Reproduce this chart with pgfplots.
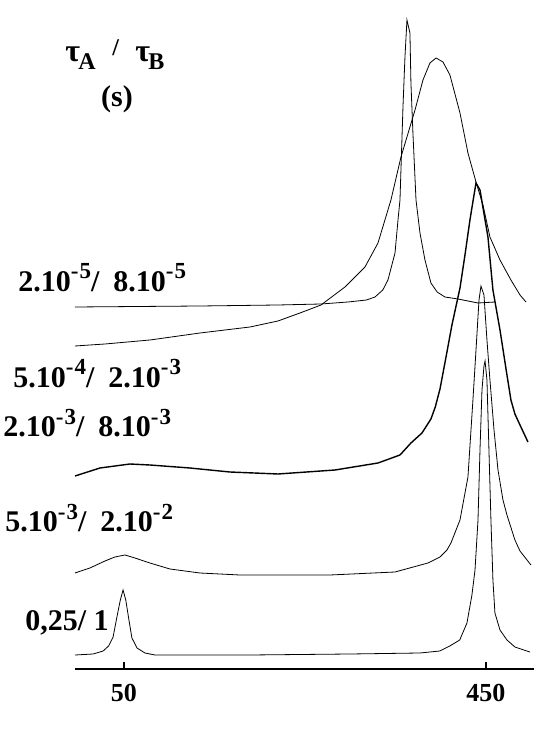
\documentclass[border=0pt]{standalone}
\usepackage{pgfplots}
\pgfplotsset{compat=1.18}
\usepackage{fontspec}
\setmainfont{Liberation Serif}
\newcommand{\sups}[1]{\raisebox{6.5pt}{\fontsize{11.5}{11.5}\selectfont #1}}
\newcommand{\lab}{\bfseries\fontsize{15}{15}\selectfont}
\begin{document}
\begin{tikzpicture}
\begin{axis}[
  at={(0,0)}, anchor=south west,
  x=0.4525pt, y=0.5pt,
  xmin=-4.1, xmax=503, ymin=0, ymax=655,
  axis x line=bottom, axis y line=none,
  axis line style={-, line width=1pt},
  xtick={50,450}, xticklabels={50,450},
  xtick align=inside, major tick length=3.5pt,
  tick style={line width=0.8pt, black},
  xticklabel style={font=\bfseries\fontsize{13}{13}\selectfont, yshift=-4pt},
  ytick=\empty,
  clip=false,
  cycle list={{black, mark=none, line width=0.7pt}},
]
% 0,25 / 1
\addplot coordinates {(-4.1,14) (16,15) (27,18) (33,23) (38,32) (42,51) (46,69) (49,79) (52,69) (55.5,49) (58.8,31) (64.4,21) (73.2,16) (84.3,14) (189,14) (300,15) (377,16) (399,18) (410,23) (421,29) (429,46) (434.5,74) (437.9,99) (441.2,149) (443.4,219) (445.6,279) (447.8,303) (449,308) (451.1,289) (453.3,219) (455.5,149) (457.7,89) (459.9,56) (465.5,39) (473.2,29) (482,22) (498.6,17)};
% 5.10-3 / 2.10-2
\addplot coordinates {(-4.1,96) (12.4,101) (29,108) (40,112) (51.1,114) (62.2,111) (78.7,106) (100.8,100) (134,96) (178,94) (277.6,94) (349.5,97) (385.9,106) (399.2,112) (406.9,119) (411.3,126) (421.3,149) (430.1,192) (435.6,269) (439,319) (442.3,369) (444.5,383) (447.8,374) (451.1,329) (454.4,289) (458.9,239) (463.3,199) (468.8,169) (473.2,154) (482,129) (487.6,118) (499.7,104)};
% 2.10-3 / 8.10-3
\addplot coordinates {(-4.1,193) (23.5,201) (56.6,205) (78.7,204) (122.9,201) (167.1,197) (220.2,195) (283.2,199) (330.7,206) (355,214) (367.1,226) (379.3,236) (389.2,250) (394,262) (399.2,280) (406.9,317) (412.4,344) (421.3,381) (426.8,414) (432.3,449) (436.8,474) (439,486) (443.4,479) (452.2,432) (457.7,379) (465.5,339) (473.2,294) (477.6,269) (482,255) (487.6,244) (496.4,227)};
% 5.10-4 / 2.10-3
\addplot coordinates {(-4.1,323) (29,325) (78.7,329) (134,336) (189.2,342) (220.2,348) (244.5,356) (267.7,364) (294.2,382) (316.3,402) (330.7,426) (345,469) (356.1,512) (371.6,559) (380.4,589) (388.1,606) (394.8,611) (402.5,607) (410.2,594) (421.3,556) (430.1,516) (439,487) (446.7,464) (454.4,432) (465.5,409) (477.6,389) (487.6,374) (494.2,367)};
% 2.10-5 / 8.10-5
\addplot coordinates {(-4.1,362) (134,363) (220.2,364) (267.7,365) (297.5,367) (318,369) (327.4,372) (336,379) (341.7,389) (349.5,416) (352.8,449) (355,469) (358.3,562) (360.5,612) (362.7,649) (366,636) (367.1,586) (369.3,536) (372.7,469) (377.1,436) (382.6,409) (389.2,386) (396,377) (404.7,372) (419.1,370) (441.2,366) (460,367)};
\end{axis}
\begin{scope}[x=0.5pt, y=-0.5pt, shift={(-37.5pt,334.5pt)}]
\path (0,0) rectangle (556,729);
% title
\node[anchor=base west, inner sep=0] at (65,62) {\bfseries\fontsize{16}{16}\selectfont τ};
\node[anchor=base west, inner sep=0] at (78,70) {\bfseries\fontsize{12}{12}\selectfont A};
\node[anchor=base west, inner sep=0] at (112,56) {\bfseries\fontsize{12}{12}\selectfont /};
\node[anchor=base west, inner sep=0] at (135,62) {\bfseries\fontsize{16}{16}\selectfont τ};
\node[anchor=base west, inner sep=0] at (148,70) {\bfseries\fontsize{12}{12}\selectfont B};
\node[inner sep=0] at (117,99.5) {\lab (s)};
% series labels
\node[anchor=base west, inner sep=0] at (18,292) {\lab 2.10\sups{-\kern0.5pt5}/\hspace{7pt}8.10\sups{-\kern0.5pt5}};
\node[anchor=base west, inner sep=0] at (13,388) {\lab 5.10\sups{-\kern0.5pt4}/\hspace{7pt}2.10\sups{-\kern0.5pt3}};
\node[anchor=base west, inner sep=0] at (3,437) {\lab 2.10\sups{-\kern0.5pt3}/\hspace{7pt}8.10\sups{-\kern0.5pt3}};
\node[anchor=base west, inner sep=0] at (5,532) {\lab 5.10\sups{-\kern0.5pt3}/\hspace{7pt}2.10\sups{-\kern0.5pt2}};
\node[anchor=base west, inner sep=0] at (25,630) {\lab 0,25/ 1};
\end{scope}
\end{tikzpicture}
\end{document}
